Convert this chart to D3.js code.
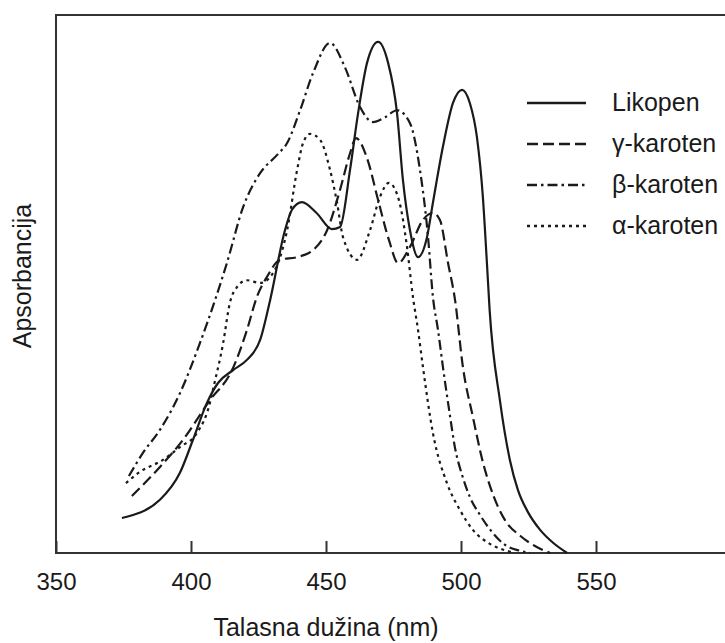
<!DOCTYPE html>
<html>
<head>
<meta charset="utf-8">
<script src="https://cdn.jsdelivr.net/npm/d3@7"></script>
<style>
    body { margin: 0; background: #fff; }
    text { font-family: "Liberation Sans", Arial, sans-serif; fill: #1a1a1a; }
</style>
</head>
<body>
<div id="chart"></div>
<script>
// values (absorbance in relative units, 1 = top of frame)
var likopenNm = [374.4, 388.5, 395.9, 400.7, 405.9, 410, 415.6, 420.7, 425.6, 429.3, 434.8, 437.4, 441.1, 446.5, 452.2, 455.2, 458.9, 461.9, 465.2, 469.3, 473, 476.3, 478.5, 481.1, 484.1, 487.4, 489.6, 493.3, 497, 500.4, 503.3, 505.9, 508.1, 509.6, 510.6, 514.4, 518.1, 521.1, 524.8, 529.3, 534.1, 539.3];
var likopenA  = [0.065, 0.099, 0.149, 0.210, 0.279, 0.316, 0.340, 0.359, 0.396, 0.470, 0.600, 0.638, 0.652, 0.632, 0.602, 0.606, 0.712, 0.818, 0.911, 0.950, 0.911, 0.818, 0.693, 0.600, 0.550, 0.587, 0.651, 0.755, 0.836, 0.861, 0.836, 0.773, 0.662, 0.539, 0.452, 0.284, 0.173, 0.117, 0.076, 0.043, 0.019, 0];

var gamaNm = [378.1, 388.5, 397, 407, 415.2, 420.7, 424.4, 428.1, 433, 439.3, 445.2, 450.4, 455.2, 458.9, 461.1, 465.2, 469.3, 473.3, 476.7, 481.1, 485.9, 489.6, 492.2, 495.2, 497.8, 500.7, 504.4, 508.1, 511.9, 516.3, 521.9, 527.4, 533];
var gamaA  = [0.106, 0.160, 0.210, 0.284, 0.340, 0.414, 0.476, 0.513, 0.545, 0.550, 0.563, 0.600, 0.675, 0.743, 0.771, 0.734, 0.656, 0.582, 0.539, 0.569, 0.619, 0.632, 0.619, 0.539, 0.470, 0.346, 0.253, 0.169, 0.108, 0.061, 0.032, 0.013, 0];

var betaNm = [377, 382.2, 388.5, 395.9, 403.3, 408.9, 413.3, 419.3, 425.6, 431.9, 435.6, 440.4, 445.2, 451.5, 457, 462.6, 467.4, 471.9, 476.3, 481.1, 484.8, 487.8, 489.6, 491.5, 493.3, 495.6, 497.8, 500.4, 503.3, 507, 511.5, 516.3, 521.9, 525.6];
var betaA  = [0.143, 0.186, 0.229, 0.297, 0.390, 0.470, 0.539, 0.643, 0.706, 0.740, 0.762, 0.823, 0.892, 0.948, 0.903, 0.829, 0.801, 0.810, 0.823, 0.799, 0.712, 0.587, 0.476, 0.414, 0.346, 0.266, 0.195, 0.145, 0.104, 0.071, 0.039, 0.015, 0.004, 0];

var alfaNm = [375.9, 381.1, 389.6, 395.9, 402.2, 407, 408.1, 411.9, 414.4, 417, 420.7, 425.6, 429.3, 435.6, 439.3, 441.5, 444.1, 447.8, 451.5, 454.1, 456.3, 461.5, 466.3, 470, 473.3, 477, 480, 482.2, 484.1, 485.9, 489.6, 494.8, 499.6, 504.4, 510.7, 517, 520];
var alfaA  = [0.130, 0.151, 0.173, 0.197, 0.223, 0.279, 0.303, 0.390, 0.465, 0.494, 0.507, 0.502, 0.513, 0.600, 0.712, 0.762, 0.779, 0.768, 0.712, 0.651, 0.587, 0.545, 0.600, 0.662, 0.688, 0.656, 0.569, 0.476, 0.414, 0.346, 0.223, 0.130, 0.080, 0.043, 0.017, 0.004, 0];

var seriesNames = ["Likopen", "γ-karoten", "β-karoten", "α-karoten"];
var xTicks = [350, 400, 450, 500, 550];

var width = 725, height = 643;
var plot = { left: 56, top: 15, right: 731, bottom: 553 };

var dashes = { "Likopen": null, "γ-karoten": "11,5", "β-karoten": "10,4,2.5,4", "α-karoten": "3,4" };

var series = [
    { name: seriesNames[0], nm: likopenNm, a: likopenA },
    { name: seriesNames[1], nm: gamaNm, a: gamaA },
    { name: seriesNames[2], nm: betaNm, a: betaA },
    { name: seriesNames[3], nm: alfaNm, a: alfaA }
];

var xScale = d3.scaleLinear().domain([350, 600]).range([plot.left, plot.right]);
var yScale = d3.scaleLinear().domain([0, 1]).range([plot.bottom, plot.top]);

var svg = d3.select("#chart")
    .append("svg")
    .attr("width", width)
    .attr("height", height);

// frame (right edge falls outside the picture)
svg.append("rect")
    .attr("x", plot.left)
    .attr("y", plot.top)
    .attr("width", plot.right - plot.left)
    .attr("height", plot.bottom - plot.top)
    .attr("fill", "none")
    .attr("stroke", "#333")
    .attr("stroke-width", 2);

var line = d3.line()
    .x(function(d) { return xScale(d[0]); })
    .y(function(d) { return yScale(d[1]); })
    .curve(d3.curveMonotoneX);

svg.selectAll(".spectrum")
    .data(series)
    .enter().append("path")
    .attr("class", "spectrum")
    .attr("d", function(s) {
        return line(s.nm.map(function(v, i) { return [v, s.a[i]]; }));
    })
    .attr("fill", "none")
    .attr("stroke", "#1a1a1a")
    .attr("stroke-width", 2.2)
    .attr("stroke-dasharray", function(s) { return dashes[s.name]; });

var xAxis = d3.axisBottom(xScale)
    .tickValues(xTicks)
    .tickSizeInner(-12)
    .tickSizeOuter(0)
    .tickPadding(20);

var gx = svg.append("g")
    .attr("class", "x-axis")
    .attr("transform", "translate(0," + plot.bottom + ")")
    .call(xAxis);

gx.select(".domain").remove();
gx.selectAll("line").attr("stroke", "#333").attr("stroke-width", 2);
gx.selectAll("text")
    .attr("font-size", 24)
    .attr("fill", "#1a1a1a")
    .style("font-family", "'Liberation Sans', Arial, sans-serif");

svg.append("text")
    .attr("x", xScale(450))
    .attr("y", 636)
    .attr("text-anchor", "middle")
    .attr("font-size", 25)
    .text("Talasna dužina (nm)");

svg.append("text")
    .attr("transform", "translate(31,276) rotate(-90)")
    .attr("text-anchor", "middle")
    .attr("font-size", 25)
    .text("Apsorbancija");

// legend
var legendY = [103, 144, 185, 226];
var legend = svg.selectAll(".legend-item")
    .data(series)
    .enter().append("g")
    .attr("class", "legend-item")
    .attr("transform", function(d, i) { return "translate(0," + legendY[i] + ")"; });

legend.append("line")
    .attr("x1", 527)
    .attr("x2", 586)
    .attr("stroke", "#1a1a1a")
    .attr("stroke-width", 2.4)
    .attr("stroke-dasharray", function(s) { return dashes[s.name]; });

legend.append("text")
    .attr("x", 612)
    .attr("y", 8)
    .attr("font-size", 25)
    .text(function(s) { return s.name; });
</script>
</body>
</html>
